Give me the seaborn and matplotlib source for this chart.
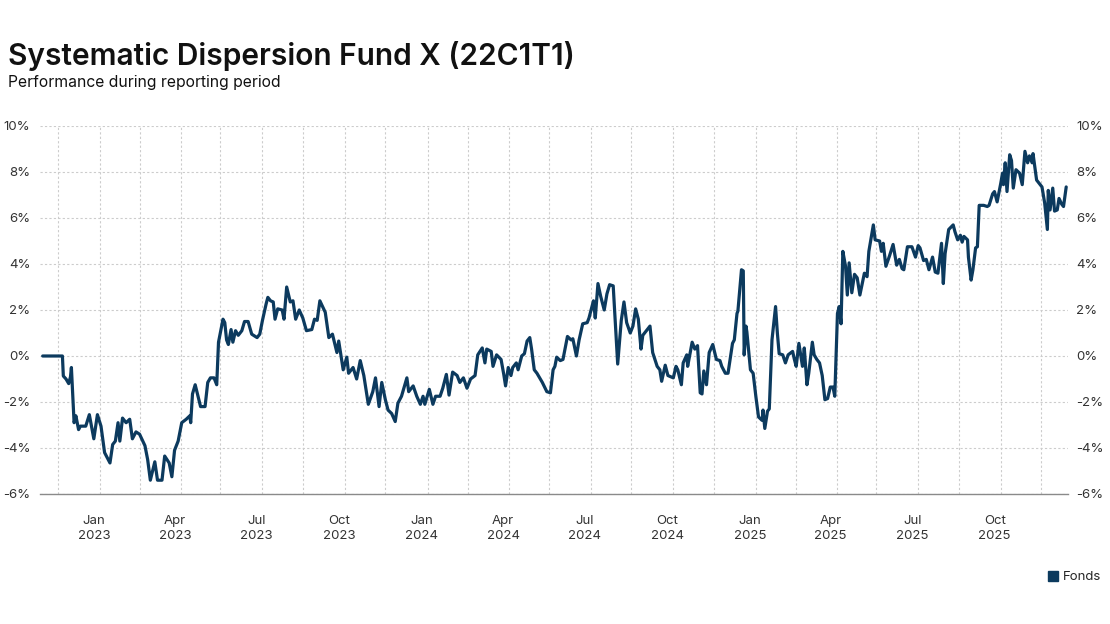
import pandas as pd
import matplotlib
matplotlib.use("Agg")
import matplotlib.pyplot as plt
import matplotlib.dates as mdates
from matplotlib.ticker import FuncFormatter, MultipleLocator
from matplotlib.lines import Line2D
from matplotlib.transforms import ScaledTranslation
import seaborn as sns

# --- DATA ---
title = "Systematic Dispersion Fund X (22C1T1)"
subtitle = "Performance during reporting period"
series_label = "Fonds"
start_date = "2022-10-29"

days_since_start = [
    0, 22, 23, 26, 29, 31, 32, 35, 37, 40,
    42, 48, 52, 57, 61, 65, 69, 75, 78, 81,
    84, 86, 89, 93, 97, 100, 104, 108, 114, 117,
    120, 125, 128, 133, 136, 141, 144, 147, 151, 155,
    160, 164, 165, 167, 170, 176, 181, 184, 187, 191,
    194, 196, 201, 203, 205, 207, 210, 212, 215, 218,
    222, 225, 229, 233, 239, 242, 245, 249, 251, 254,
    257, 259, 262, 267, 269, 272, 276, 279, 282, 286,
    290, 294, 300, 303, 306, 309, 315, 319, 323, 328,
    330, 335, 339, 341, 346, 350, 354, 358, 363, 368,
    371, 375, 378, 382, 385, 389, 393, 396, 400, 406,
    408, 413, 417, 421, 424, 426, 431, 435, 438, 443,
    446, 450, 453, 457, 462, 465, 469, 473, 477, 482,
    485, 490, 493, 495, 500, 502, 506, 511, 514, 516,
    519, 522, 524, 528, 530, 534, 537, 540, 543, 545,
    548, 551, 557, 562, 566, 569, 571, 573, 577, 580,
    585, 589, 591, 595, 598, 602, 607, 609, 614, 616,
    619, 622, 626, 629, 632, 636, 640, 641, 645, 648,
    651, 655, 658, 661, 664, 667, 669, 674, 677, 680,
    685, 688, 690, 694, 697, 703, 706, 708, 712, 714,
    718, 719, 724, 727, 730, 733, 735, 737, 740, 743,
    747, 751, 755, 757, 761, 764, 769, 771, 774, 775,
    779, 781, 782, 784, 785, 789, 792, 795, 798, 802,
    803, 805, 808, 810, 813, 817, 819, 821, 825, 828,
    831, 836, 838, 840, 843, 847, 849, 852, 854, 858,
    860, 863, 866, 869, 872, 875, 878, 881, 883, 886,
    888, 890, 892, 895, 897, 899, 902, 905, 908, 911,
    916, 919, 921, 926, 928, 933, 935, 937, 940, 944,
    948, 952, 955, 958, 960, 964, 969, 973, 976, 978,
    982, 985, 988, 992, 995, 998, 1002, 1004, 1006, 1010,
    1015, 1017, 1020, 1023, 1025, 1027, 1031, 1032, 1035, 1037,
    1040, 1042, 1044, 1049, 1053, 1055, 1059, 1061, 1064, 1068,
    1070, 1071, 1073, 1075, 1078, 1080, 1082, 1085, 1089, 1092,
    1095, 1098, 1100, 1103, 1104, 1108, 1111, 1114, 1117, 1120,
    1121, 1123, 1126, 1128, 1131, 1133, 1136, 1138, 1141,
]

fund_return_pct = [
    0, 0, -0.87, -1.0, -1.2, -0.9, -0.5, -2.9, -2.6, -3.2,
    -3.05, -3.05, -2.55, -3.6, -2.55, -3.05, -4.2, -4.65, -3.85, -3.7,
    -2.9, -3.7, -2.7, -2.9, -2.75, -3.6, -3.3, -3.4, -3.9, -4.5,
    -5.4, -4.6, -5.4, -5.4, -4.35, -4.65, -5.25, -4.1, -3.7, -2.9,
    -2.75, -2.6, -2.9, -1.65, -1.25, -2.2, -2.2, -1.15, -0.95, -0.95,
    -1.25, 0.6, 1.6, 1.45, 0.7, 0.5, 1.15, 0.6, 1.1, 0.9,
    1.1, 1.5, 1.5, 0.95, 0.8, 0.95, 1.55, 2.25, 2.55, 2.4,
    2.35, 1.6, 2.05, 2.0, 1.6, 3.0, 2.35, 2.4, 1.6, 2.0,
    1.65, 1.1, 1.15, 1.6, 1.55, 2.4, 1.9, 0.8, 0.95, 0.15,
    0.65, -0.6, -0.05, -0.75, -0.5, -1.0, -0.2, -0.85, -2.1, -1.55,
    -0.95, -2.2, -1.15, -1.9, -2.35, -2.5, -2.85, -2.05, -1.75, -0.95,
    -1.55, -1.3, -1.75, -2.1, -1.75, -2.1, -1.45, -2.1, -1.75, -1.75,
    -1.4, -0.8, -1.7, -0.7, -0.85, -1.15, -0.95, -1.4, -1.0, -0.85,
    0.05, 0.35, -0.3, 0.3, 0.2, -0.45, 0.05, -0.15, -0.8, -1.3,
    -0.5, -0.85, -0.5, -0.3, -0.6, 0.0, 0.1, 0.65, 0.8, 0.3,
    -0.6, -0.75, -1.15, -1.55, -1.6, -0.6, -0.45, -0.05, -0.2, -0.15,
    0.85, 0.7, 0.75, 0.0, 0.7, 1.4, 1.45, 1.65, 2.4, 1.65,
    3.15, 2.6, 2.0, 2.7, 3.1, 3.05, 0.3, -0.35, 1.55, 2.35,
    1.45, 1.0, 1.3, 2.05, 1.6, 0.3, 0.9, 1.15, 1.3, 0.15,
    -0.45, -0.6, -1.1, -0.4, -0.85, -0.95, -0.45, -0.6, -1.25, -0.3,
    0.05, -0.45, 0.6, 0.3, 0.45, -1.6, -1.65, -0.65, -1.25, 0.15,
    0.5, -0.15, -0.2, -0.45, -0.75, -0.75, 0.55, 0.7, 1.85, 1.95,
    3.75, 3.7, 0.05, 1.3, 1.05, -0.6, -0.75, -1.75, -2.65, -2.8,
    -2.35, -3.15, -2.4, -2.3, 0.7, 2.15, 1.0, 0.1, 0.05, -0.3,
    0.05, 0.2, -0.15, -0.45, 0.55, -0.45, 0.35, -1.25, -0.75, 0.6,
    0.05, -0.15, -0.3, -0.85, -1.9, -1.85, -1.35, -1.35, -1.75, 1.85,
    2.15, 1.4, 4.55, 3.9, 2.65, 4.05, 2.75, 3.55, 3.4, 2.65,
    3.6, 3.45, 4.55, 5.7, 5.05, 5.0, 4.55, 4.9, 3.9, 4.35,
    4.85, 3.95, 4.2, 3.8, 3.75, 4.75, 4.75, 4.3, 4.8, 4.7,
    4.15, 4.2, 3.75, 4.3, 3.65, 3.6, 4.9, 3.15, 4.45, 5.5,
    5.7, 5.4, 5.05, 5.25, 4.95, 5.2, 5.05, 4.3, 3.3, 3.75,
    4.7, 4.75, 6.55, 6.55, 6.5, 6.55, 7.05, 7.15, 6.7, 7.5,
    7.95, 7.45, 8.4, 7.15, 8.75, 8.5, 7.3, 8.1, 7.95, 7.45,
    8.9, 8.4, 8.7, 8.4, 8.8, 7.65, 7.5, 7.35, 6.65, 5.5,
    7.2, 6.35, 7.3, 6.3, 6.35, 6.85, 6.6, 6.5, 7.35,
]

assert len(days_since_start) == len(fund_return_pct)

LINE_COLOR = "#0c3a5e"
GRID_COLOR = "#cccccc"
TEXT_COLOR = "#333333"

df = pd.DataFrame({
    "date": pd.Timestamp(start_date) + pd.to_timedelta(days_since_start, unit="D"),
    "performance": fund_return_pct,
})

sns.set_theme(style="white")
plt.rcParams["font.family"] = ["Inter", "DejaVu Sans"]

fig = plt.figure(figsize=(11.1, 6.24), dpi=100)
ax = fig.add_axes([40 / 1110, 1 - 494 / 624, 1028 / 1110, 368 / 624])

sns.lineplot(data=df, x="date", y="performance", ax=ax, color=LINE_COLOR,
             linewidth=2.3, estimator=None, legend=False, zorder=3)

ax.set_ylim(-6, 10)
ax.set_xlim(df["date"].iloc[0] - pd.Timedelta(days=3),
            df["date"].iloc[-1] + pd.Timedelta(days=2))
ax.set_xlabel("")
ax.set_ylabel("")

pct = FuncFormatter(lambda v, p: f"{v:.0f}%")
ax.yaxis.set_major_locator(MultipleLocator(2))
ax.yaxis.set_major_formatter(pct)
ax.xaxis.set_major_locator(mdates.MonthLocator(bymonth=[1, 4, 7, 10]))
ax.xaxis.set_minor_locator(mdates.MonthLocator(bymonth=[2, 5, 8, 11], bymonthday=15))
ax.xaxis.set_major_formatter(mdates.DateFormatter("%b\n%Y"))

ax.set_axisbelow(True)
ax.grid(True, which="both", axis="x", color=GRID_COLOR, linestyle=(0, (2, 2)), linewidth=0.8)
ax.grid(True, which="major", axis="y", color=GRID_COLOR, linestyle=(0, (2, 2)), linewidth=0.8)
for s in ["top", "left", "right"]:
    ax.spines[s].set_visible(False)
ax.spines["bottom"].set_color("#8a8a8a")
ax.spines["bottom"].set_linewidth(1.0)

ax.tick_params(axis="x", which="both", length=0, pad=15, labelsize=9.5, labelcolor=TEXT_COLOR)
ax.tick_params(axis="y", length=0, pad=7, labelsize=9.5, labelcolor=TEXT_COLOR)
for lbl in ax.get_xticklabels():
    lbl.set_linespacing(1.3)
    lbl.set_transform(lbl.get_transform() + ScaledTranslation(-0.06, 0, fig.dpi_scale_trans))

ax2 = ax.twinx()
ax2.set_ylim(-6, 10)
ax2.yaxis.set_major_locator(MultipleLocator(2))
ax2.yaxis.set_major_formatter(pct)
ax2.tick_params(axis="y", length=0, pad=6, labelsize=9.5, labelcolor=TEXT_COLOR)
for s in ["top", "left", "right", "bottom"]:
    ax2.spines[s].set_visible(False)
ax2.grid(False)

fig.text(8 / 1110, 1 - 65 / 624, title, fontsize=21.5, fontweight="semibold",
         color="#111111", va="baseline", ha="left")
fig.text(8 / 1110, 1 - 87 / 624, subtitle, fontsize=11.3, color="#111111",
         va="baseline", ha="left")

handle = Line2D([], [], marker="s", linestyle="", color=LINE_COLOR, markersize=7)
fig.legend([handle], [series_label], loc="center right",
           bbox_to_anchor=(1106 / 1110, 1 - 577 / 624), frameon=False,
           fontsize=9.5, handletextpad=0.2, handlelength=1.0, borderaxespad=0)

fig.savefig("out.png", dpi=100)
